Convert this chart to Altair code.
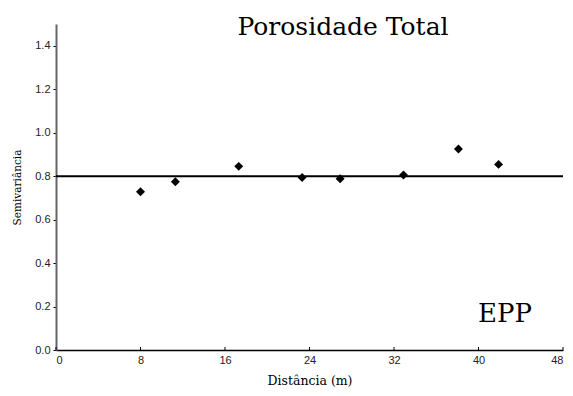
import altair as alt
import pandas as pd

distancia = [8.0, 11.3, 17.3, 23.3, 26.9, 32.9, 38.1, 41.9]
semivariancia = [0.728, 0.774, 0.845, 0.794, 0.788, 0.805, 0.925, 0.854]
patamar = [0.8]
x_ticks = [0, 8, 16, 24, 32, 40, 48]
y_ticks = [0.0, 0.2, 0.4, 0.6, 0.8, 1.0, 1.2, 1.4]
titulo = "Porosidade Total"
rotulo = "EPP"

W, H = 507, 326
SERIF = "DejaVu Serif"
SANS = "Liberation Sans"

pts = pd.DataFrame({"d": distancia, "s": semivariancia})
sill = pd.DataFrame({"s": patamar})
ticks = pd.DataFrame({"d": x_ticks})

xscale = alt.Scale(domain=[0, 48], nice=False, zero=False)
yscale = alt.Scale(domain=[0, 1.5], nice=False)

xaxis = alt.Axis(
    values=x_ticks, title="Distância (m)", titleFont=SERIF,
    titleFontSize=12.5, titleFontWeight="normal", titleColor="black", titlePadding=9,
    labelFont=SANS, labelFontSize=11, labelColor="#222",
    labelPadding=4, ticks=False, domainColor="black", domainWidth=1.5, grid=False,
)
yaxis = alt.Axis(
    values=y_ticks, format=".1f", title="Semivariância", titleFont=SERIF,
    titleFontSize=10.5, titleFontWeight="normal", titleColor="black", titlePadding=12,
    labelFont=SANS, labelFontSize=11, labelColor="#222",
    tickSize=3, tickColor="black", labelPadding=3, domainColor="#666", domainWidth=2,
    grid=False,
)

points = alt.Chart(pts).mark_point(
    shape="diamond", filled=True, color="black", size=80, opacity=1
).encode(
    x=alt.X("d:Q", scale=xscale, axis=xaxis),
    y=alt.Y("s:Q", scale=yscale, axis=yaxis),
)

line = alt.Chart(sill).mark_rule(color="black", strokeWidth=2).encode(
    y=alt.Y("s:Q", scale=yscale),
)

xt = alt.Chart(ticks).mark_rule(color="black", strokeWidth=1).encode(
    x=alt.X("d:Q", scale=xscale),
    y=alt.value(H),
    y2=alt.value(H - 3),
)

title_txt = alt.Chart(pd.DataFrame({"t": [titulo]})).mark_text(
    font=SERIF, fontSize=25, color="black", baseline="alphabetic", align="center"
).encode(text="t:N", x=alt.value(287), y=alt.value(11))

epp_txt = alt.Chart(pd.DataFrame({"t": [rotulo]})).mark_text(
    font=SERIF, fontSize=26, color="black", baseline="alphabetic", align="center"
).encode(text="t:N", x=alt.value(449), y=alt.value(298))

chart = alt.layer(line, xt, points, title_txt, epp_txt).properties(
    width=W, height=H,
    autosize=alt.AutoSizeParams(type="none"),
    padding={"left": 56, "top": 24, "right": 10, "bottom": 46},
    background="white",
).configure_view(stroke=None)

chart.save("out.html", embed_options={"renderer": "svg", "actions": False})
